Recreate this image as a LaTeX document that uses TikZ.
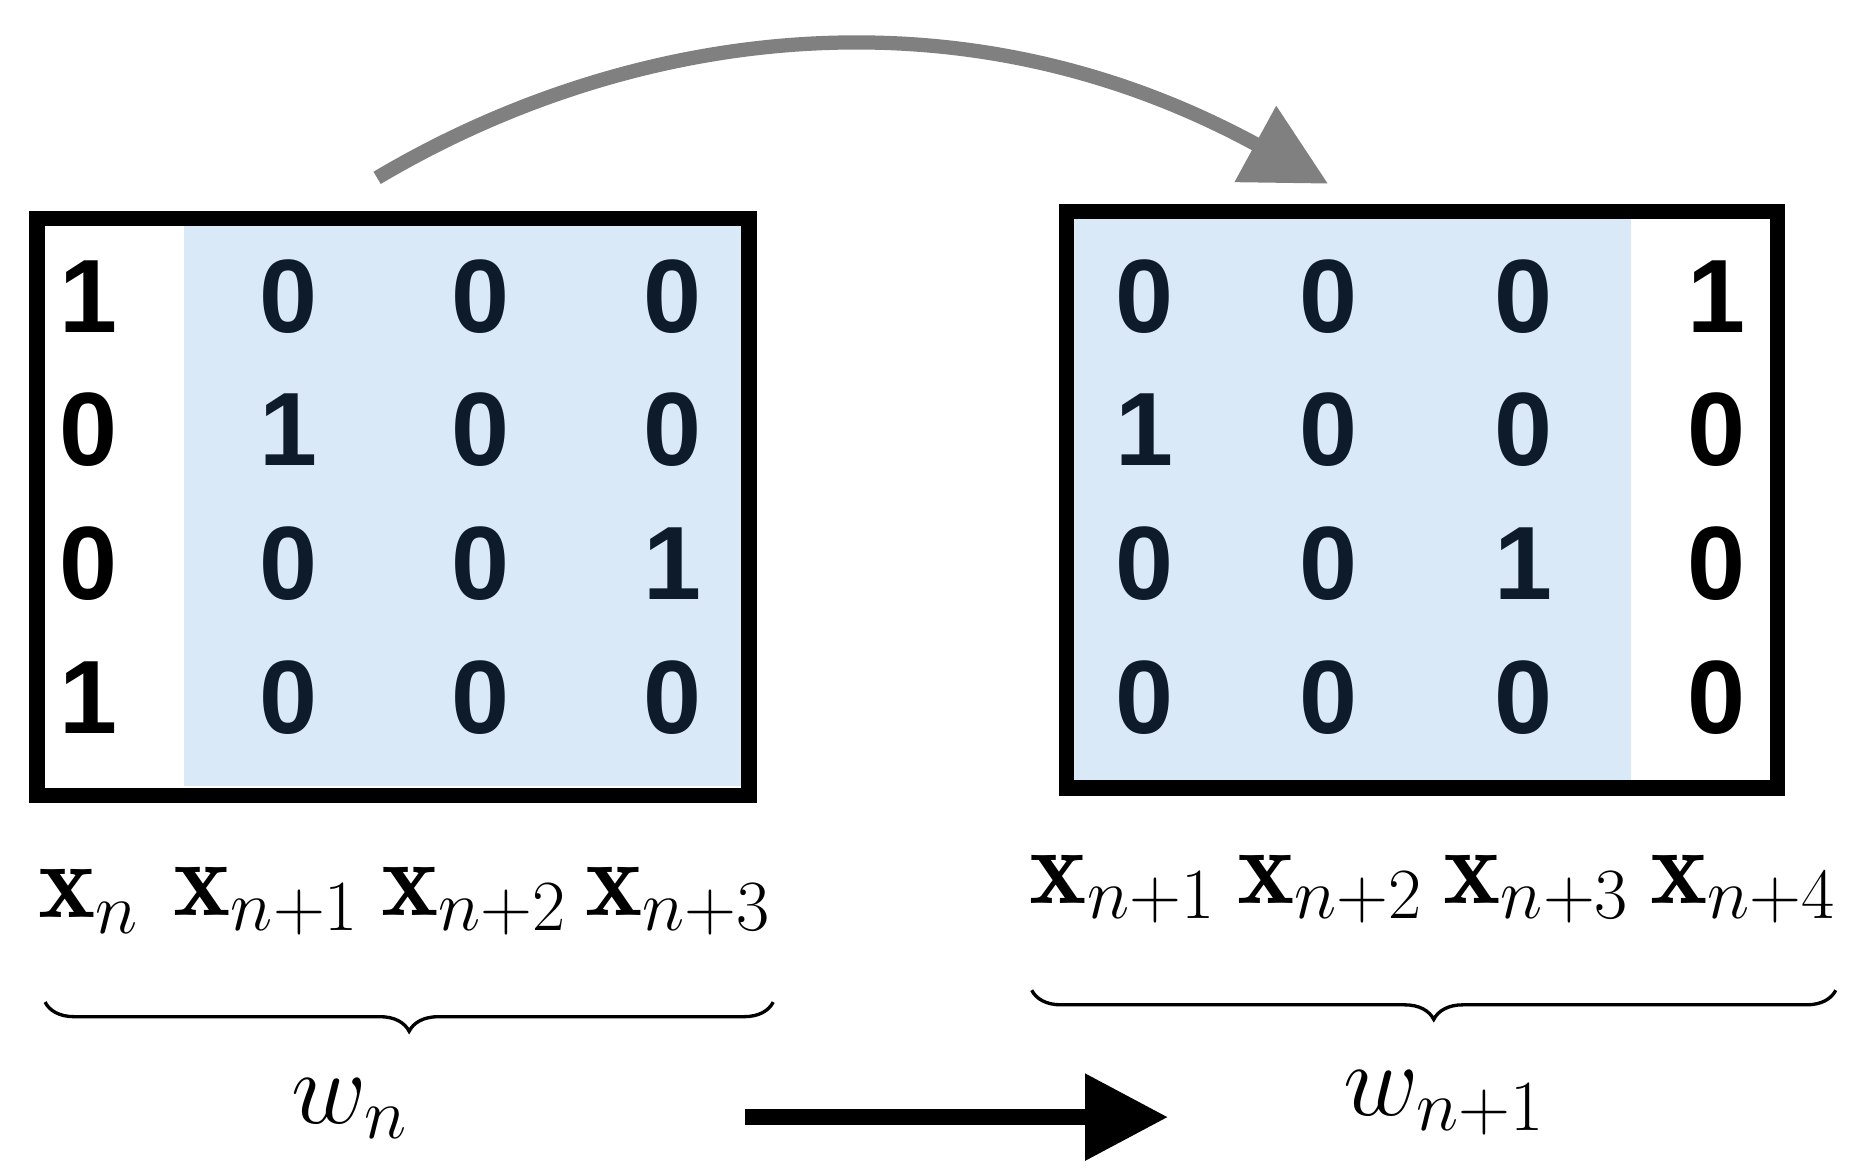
\documentclass[tikz,border=0pt]{standalone}
\usepackage{fontspec}
\newfontfamily\digitfont{Liberation Sans}
\usetikzlibrary{positioning, arrows.meta, decorations.pathreplacing}
\definecolor{cellblue}{HTML}{D9E9F8}
\definecolor{digitnavy}{HTML}{0E1B2B}
\tikzstyle{frame} = [draw=black, line width=1.3mm, inner sep=0pt]
\tikzstyle{shade} = [fill=cellblue, draw=none]
\tikzstyle{bit} = [font=\digitfont\bfseries\fontsize{25}{30}\selectfont, text=digitnavy]
\tikzstyle{vec} = [font=\fontsize{26}{30}\selectfont]
\tikzstyle{brace} = [decorate, decoration={brace, amplitude=7pt, mirror}, thick]
\tikzstyle{arrow} = [line width=1.3mm, -{Triangle[length=7mm, width=7mm]}]
\begin{document}
\begin{tikzpicture}[x=0.01cm, y=-0.01cm]
    \useasboundingbox (0,0) rectangle (1560,988);
    % blue background of shared columns
    \fill [shade] (155,190) rectangle (625,663);
    \fill [shade] (905,184) rectangle (1375,659);
    \node (wl) [frame, minimum width=6.0cm, minimum height=4.86cm] at (331.5,427.5) {};
    \node (wr) [frame, minimum width=5.99cm, minimum height=4.86cm] at (1199,421.5) {};
    % left window
    \foreach \r/\y in {1/250,2/362,3/475,4/588}
      \foreach \c/\x in {1/75,2/243,3/405,4/567}
        \coordinate (l\r\c) at (\x,\y);
    \foreach \r/\a/\b/\c/\d in {1/1/0/0/0,2/0/1/0/0,3/0/0/0/1,4/1/0/0/0} {
      \node [bit, text=black] at (l\r1) {\a};
      \node [bit] at (l\r2) {\b};
      \node [bit] at (l\r3) {\c};
      \node [bit] at (l\r4) {\d};
    }
    % right window
    \foreach \r/\y in {1/250,2/362,3/475,4/588}
      \foreach \c/\x in {1/965,2/1120,3/1285,4/1447}
        \coordinate (r\r\c) at (\x,\y);
    \foreach \r/\a/\b/\c/\d in {1/0/0/0/1,2/1/0/0/0,3/0/0/1/0,4/0/0/0/0} {
      \node [bit] at (r\r1) {\a};
      \node [bit] at (r\r2) {\b};
      \node [bit] at (r\r3) {\c};
      \node [bit, text=black] at (r\r4) {\d};
    }
    % column labels
    \node (xl1) [vec] at (75,760) {$\mathbf{x}_n$};
    \node (xl2) [vec] at (225,760) {$\mathbf{x}_{n+1}$};
    \node (xl3) [vec] at (400,760) {$\mathbf{x}_{n+2}$};
    \node (xl4) [vec] at (572,760) {$\mathbf{x}_{n+3}$};
    \node (xr1) [vec] at (947,750) {$\mathbf{x}_{n+1}$};
    \node (xr2) [vec] at (1122,750) {$\mathbf{x}_{n+2}$};
    \node (xr3) [vec] at (1296,750) {$\mathbf{x}_{n+3}$};
    \node (xr4) [vec] at (1470,750) {$\mathbf{x}_{n+4}$};
    % braces
    \coordinate (bl1) at (38,845);
    \coordinate (bl2) at (652,845);
    \coordinate (br1) at (870,835);
    \coordinate (br2) at (1548,835);
    \draw [brace] (bl1) -- (bl2);
    \draw [brace] (br1) -- (br2);
    \node (wn) [vec] at (295,935) {$w_n$};
    \node (wn1) [vec] at (1218,930) {$w_{n+1}$};
    % arrows
    \coordinate (s1) at (628,942);
    \coordinate (s2) at (985,942);
    \draw [arrow] (s1) -- (s2);
    \coordinate (a1) at (318,150);
    \coordinate (a2) at (1120,155);
    \draw [arrow, gray, line width=1.2mm] (a1) .. controls (520,30) and (800,-20) .. (a2);
\end{tikzpicture}
\end{document}
